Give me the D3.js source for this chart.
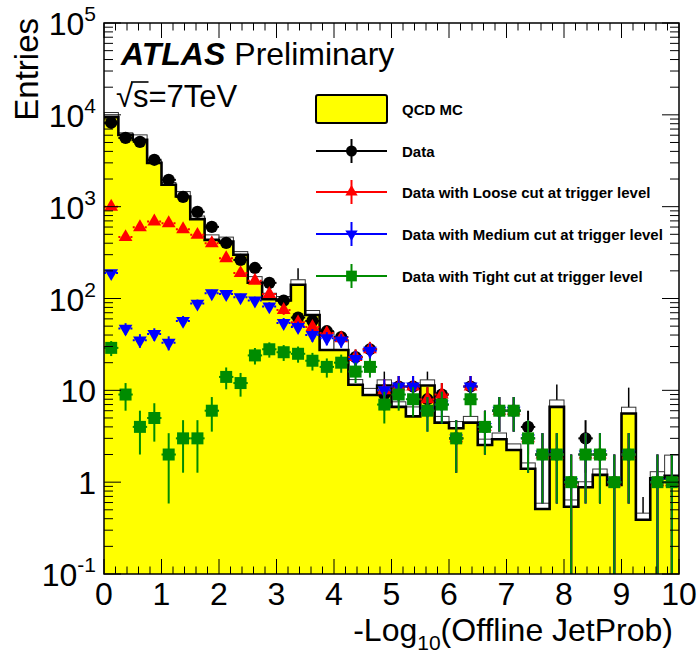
<!DOCTYPE html>
<html>
<head>
<meta charset="utf-8">
<script src="https://cdn.jsdelivr.net/npm/d3@7"></script>
<style>
  body { margin: 0; background: #fff; }
  text { font-family: "Liberation Sans", Arial, Helvetica, sans-serif; }
</style>
</head>
<body>
<svg width="697" height="662"></svg>
<script>
// DATA: 40 bins of width 0.25 in -log10(JetProb)
const binWidth = 0.25;
const binLow = d3.range(40).map(i => i * binWidth);

const mcValues = [9440, 6050, 5340, 3000, 1730, 1290, 731, 435, 417, 299,
  149, 98, 95, 141, 66, 27.5, 27.5, 11.5, 8.9, 11.3,
  6.6, 5.2, 11.3, 4.45, 3.87, 4.45, 2.54, 2.93, 2.24, 1.4,
  0.51, 6.6, 0.54, 0.88, 1.2, 0.93, 5.6, 0.39, 1.1, 1.17];
const mcBoxErr = [1160, 320, 710, 150, 100, 170, 60, 58, 49, 25,
  24, 16, 10, 19, 8, 16, 8, 1.6, 1.6, 1.7,
  0.9, 1.4, 1.7, 0.75, 0.7, 0.75, 0.4, 0.5, 0.37, 0.22,
  0.08, 1.25, 0.1, 0.13, 0.19, 0.17, 0.95, 0.07, 0.2, 0.8];
const mcBarErr = [0, 0, 0, 0, 0, 0, 0, 0, 0, 0,
  0, 0, 0, 73, 0, 0, 0, 0, 0, 4.7,
  0, 0, 4.7, 0, 0, 0, 0, 0, 0, 0,
  0, 5, 0, 0, 0, 0, 5.1, 0.3, 0, 0];

const dataAll = [8200, 5600, 5080, 3240, 1960, 1280, 878, 603, 403, 263,
  215, 148, 95, 62, 57, 44, 38, 23, 28, 9,
  11, 11, 8, 9, 3, 11, 4, 6, 6, 4,
  2, 2, 1, 3, 2, 1, 2, 0, 1, 1];
const dataLoose = [1000, 466, 598, 689, 661, 569, 493, 400, 275, 189,
  156, 112, 75, 55, 49, 42, 37, 23, 28, 10,
  11, 11, 8, 9, 3, 11, 4, 6, 6, 3,
  2, 2, 1, 2, 2, 1, 2, 0, 1, 1];
const dataMedium = [189, 47, 35, 41, 33, 57, 88, 114, 112, 103,
  95, 82, 54, 49, 40, 37, 35, 22, 27, 10,
  11, 11, 6, 7, 3, 11, 4, 6, 6, 3,
  2, 2, 1, 2, 2, 1, 2, 0, 1, 1];
const dataTight = [29, 9, 4, 5, 2, 3, 3, 6, 14, 12,
  24, 28, 26, 25, 21, 18, 20, 16, 18, 7,
  9, 8, 6, 7, 3, 8, 4, 6, 6, 3,
  2, 2, 1, 2, 2, 1, 2, 0, 1, 1];

const xTickValues = d3.range(0, 11);
const yPowers = d3.range(-1, 6);

const legendLabels = ["QCD MC", "Data", "Data with Loose cut at trigger level",
  "Data with Medium cut at trigger level", "Data with Tight cut at trigger level"];

// LAYOUT
const svg = d3.select("svg");
const width = 697, height = 662;
const margin = { top: 23, left: 104, right: 18, bottom: 88 };
const x0 = margin.left, x1 = width - margin.right;
const y0 = height - margin.bottom, y1 = margin.top;

const xScale = d3.scaleLinear().domain([0, 10]).range([x0, x1]);
const yScale = d3.scaleLog().domain([0.1, 1e5]).range([y0, y1]);
const yc = v => yScale(Math.max(v, 0.03));

const green = "#008c00";

svg.append("rect").attr("width", width).attr("height", height).attr("fill", "#fff");

svg.append("defs").append("clipPath").attr("id", "plotClip")
  .append("rect").attr("x", x0).attr("y", y1).attr("width", x1 - x0).attr("height", y0 - y1);

const plot = svg.append("g").attr("clip-path", "url(#plotClip)");

// MC error bars and boxes
const mc = binLow.map((lo, i) => ({ lo, hi: lo + binWidth, v: mcValues[i], box: mcBoxErr[i], bar: mcBarErr[i] }));

plot.selectAll("line.mcbar").data(mc.filter(d => d.bar > 0)).join("line")
  .attr("class", "mcbar")
  .attr("x1", d => xScale(d.lo + binWidth / 2)).attr("x2", d => xScale(d.lo + binWidth / 2))
  .attr("y1", d => yc(d.v - d.bar)).attr("y2", d => yc(d.v + d.bar))
  .attr("stroke", "#000").attr("stroke-width", 1.5);

plot.selectAll("rect.mcbox").data(mc).join("rect")
  .attr("class", "mcbox")
  .attr("x", d => xScale(d.lo)).attr("width", d => xScale(d.hi) - xScale(d.lo))
  .attr("y", d => yc(d.v + d.box)).attr("height", d => yc(d.v - d.box) - yc(d.v + d.box))
  .attr("fill", "#fff").attr("stroke", "#333").attr("stroke-width", 1);

// yellow MC histogram
const stepPts = mc.flatMap(d => [[d.lo, d.v], [d.hi, d.v]]);
plot.append("path").datum(stepPts)
  .attr("fill", "#ffff00")
  .attr("d", d3.area().x(d => xScale(d[0])).y0(y0).y1(d => yScale(d[1])));
plot.append("path").datum(stepPts)
  .attr("fill", "none").attr("stroke", "#000").attr("stroke-width", 2.6)
  .attr("d", d3.line().x(d => xScale(d[0])).y(d => yScale(d[1])));

// data series
const series = [
  { values: dataAll, color: "#000", symbol: d3.symbolCircle, size: 118, rot: 0, dotted: false },
  { values: dataLoose, color: "#ff0000", symbol: d3.symbolTriangle, size: 82, rot: 0, dotted: true },
  { values: dataMedium, color: "#0000ff", symbol: d3.symbolTriangle, size: 82, rot: 180, dotted: true },
  { values: dataTight, color: green, symbol: d3.symbolSquare, size: 144, rot: 0, dotted: false }
];

series.forEach((s, k) => {
  const pts = binLow.map((lo, i) => ({ c: lo + binWidth / 2, v: s.values[i] })).filter(d => d.v > 0);
  const g = plot.append("g").attr("class", "series" + k);
  g.selectAll("line.ey").data(pts).join("line")
    .attr("class", "ey")
    .attr("x1", d => xScale(d.c)).attr("x2", d => xScale(d.c))
    .attr("y1", d => yc(d.v - Math.sqrt(d.v))).attr("y2", d => yc(d.v + Math.sqrt(d.v)))
    .attr("stroke", s.color).attr("stroke-width", 2);
  g.selectAll("line.ex").data(pts).join("line")
    .attr("class", "ex")
    .attr("x1", d => xScale(d.c - binWidth / 2)).attr("x2", d => xScale(d.c + binWidth / 2))
    .attr("y1", d => yScale(d.v)).attr("y2", d => yScale(d.v))
    .attr("stroke", s.color).attr("stroke-width", 2)
    .attr("stroke-dasharray", s.dotted ? "2,2" : null);
  g.selectAll("path.m").data(pts).join("path")
    .attr("class", "m")
    .attr("transform", d => `translate(${xScale(d.c)},${yScale(d.v)}) rotate(${s.rot})`)
    .attr("d", d3.symbol(s.symbol, s.size))
    .attr("fill", s.color);
});

// FRAME AND TICKS
const axes = svg.append("g").attr("stroke", "#000").attr("stroke-width", 1);
axes.append("rect").attr("x", x0).attr("y", y1).attr("width", x1 - x0).attr("height", y0 - y1)
  .attr("fill", "none").attr("stroke-width", 1.5);

const yMajor = yPowers.map(p => Math.pow(10, p));
const yMinor = yPowers.slice(0, -1).flatMap(p => d3.range(2, 10).map(m => m * Math.pow(10, p)));
const xMinor = d3.range(0, 50).map(i => i * 0.2).filter(v => Math.abs(v - Math.round(v)) > 1e-6);

[[yMajor, 17], [yMinor, 9]].forEach(([vals, len]) => {
  vals.forEach(v => {
    const yy = yScale(v);
    axes.append("line").attr("x1", x0).attr("x2", x0 + len).attr("y1", yy).attr("y2", yy);
    axes.append("line").attr("x1", x1).attr("x2", x1 - len).attr("y1", yy).attr("y2", yy);
  });
});
[[xTickValues, 15], [xMinor, 7.5]].forEach(([vals, len]) => {
  vals.forEach(v => {
    const xx = xScale(v);
    axes.append("line").attr("x1", xx).attr("x2", xx).attr("y1", y0).attr("y2", y0 - len);
    axes.append("line").attr("x1", xx).attr("x2", xx).attr("y1", y1).attr("y2", y1 + len);
  });
});

// tick labels
svg.append("g").selectAll("text").data(xTickValues).join("text")
  .attr("x", d => xScale(d)).attr("y", 605)
  .attr("text-anchor", "middle").attr("font-size", 32)
  .text(d => d);

const yLab = svg.append("g").selectAll("text").data(yPowers).join("text")
  .attr("x", 96).attr("y", p => yScale(Math.pow(10, p)) + 12)
  .attr("text-anchor", "end").attr("font-size", 32);
yLab.each(function (p) {
  const t = d3.select(this);
  if (p === 0) { t.text("1"); return; }
  if (p === 1) { t.text("10"); return; }
  t.append("tspan").text("10");
  t.append("tspan").attr("dy", -14).attr("font-size", 21).text(p);
});

// axis titles
const xt = svg.append("text").attr("x", 673).attr("y", 641)
  .attr("text-anchor", "end").attr("font-size", 32);
xt.append("tspan").text("-Log");
xt.append("tspan").attr("dy", 9).attr("font-size", 21).text("10");
xt.append("tspan").attr("dy", -9).text("(Offline JetProb)");

svg.append("text")
  .attr("transform", "translate(38,18) rotate(-90)")
  .attr("text-anchor", "end").attr("font-size", 33)
  .text("Entries");

// ATLAS label
const atl = svg.append("text").attr("x", 121).attr("y", 65).attr("font-size", 32);
atl.append("tspan").attr("font-weight", "bold").attr("font-style", "italic").text("ATLAS");
atl.append("tspan").attr("dx", 9).text("Preliminary");

const sq = svg.append("text").attr("x", 116).attr("y", 107).attr("font-size", 31).text("√s=7TeV");
const sNode = sq.node();
const sx = sNode.getStartPositionOfChar(1).x;
const sw = sNode.getSubStringLength(1, 1);
svg.append("line")
  .attr("x1", sx - 2).attr("x2", sx + sw)
  .attr("y1", 82).attr("y2", 82)
  .attr("stroke", "#000").attr("stroke-width", 1.6);

// LEGEND
const legX0 = 316, legX1 = 387, legMid = (legX0 + legX1) / 2, legText = 402;
const legY = [109, 151, 192, 234, 276];
const legend = svg.append("g");
legend.append("rect").attr("x", legX0).attr("y", 95).attr("width", legX1 - legX0).attr("height", 28)
  .attr("rx", 2).attr("fill", "#ffff00").attr("stroke", "#000").attr("stroke-width", 2);
series.forEach((s, k) => {
  const yy = legY[k + 1];
  legend.append("line").attr("x1", legX0).attr("x2", legX1).attr("y1", yy).attr("y2", yy)
    .attr("stroke", s.color).attr("stroke-width", 2);
  legend.append("line").attr("x1", legMid).attr("x2", legMid).attr("y1", yy - 12).attr("y2", yy + 12)
    .attr("stroke", s.color).attr("stroke-width", 2);
  legend.append("path")
    .attr("transform", `translate(${legMid},${yy}) rotate(${s.rot})`)
    .attr("d", d3.symbol(s.symbol, s.size * 0.8)).attr("fill", s.color);
});
legend.selectAll("text").data(legendLabels).join("text")
  .attr("x", legText).attr("y", (d, i) => legY[i] + 5.5)
  .attr("font-size", 15).attr("font-weight", "bold")
  .text(d => d);
</script>
</body>
</html>
